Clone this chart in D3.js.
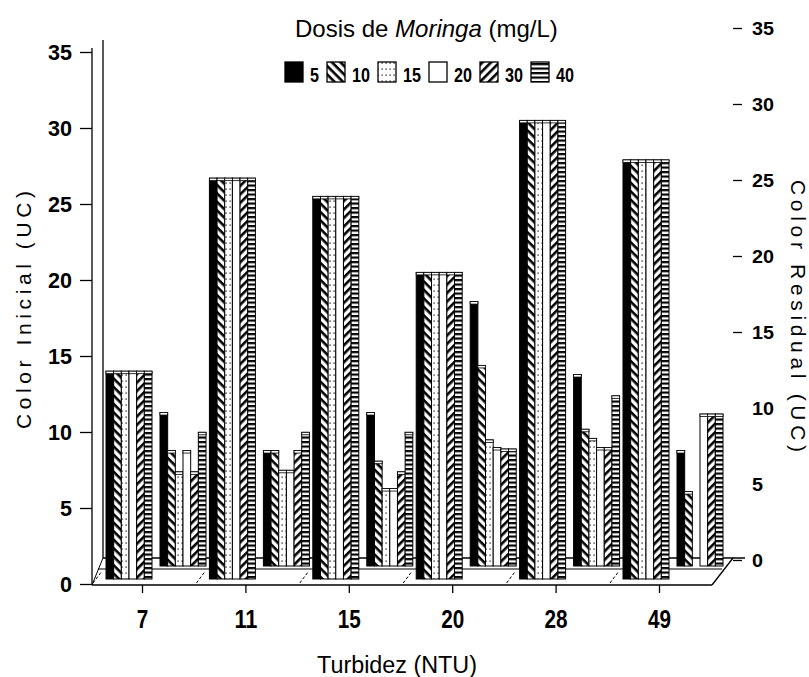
<!DOCTYPE html>
<html><head><meta charset="utf-8">
<script src="https://cdn.jsdelivr.net/npm/d3@7"></script>
<style>body{margin:0;background:#fff}</style>
</head><body>
<svg id="c" width="809" height="677"></svg>
<script>
// ---------- data ----------
const categories = ["7", "11", "15", "20", "28", "49"];      // Turbidez (NTU)
const doses = ["5", "10", "15", "20", "30", "40"];             // Dosis de Moringa (mg/L)
const colorInicial = [14.0, 26.7, 25.5, 20.5, 30.5, 27.9];    // same for every dose
const res5  = [9.7, 7.2, 9.7, 17.0, 12.2, 7.2];
const res10 = [7.2, 7.2, 6.5, 12.8, 8.6, 4.5];
const res15 = [5.8, 5.9, 4.7, 7.9, 8.0, 0];
const res20 = [7.2, 5.9, 4.7, 7.4, 7.4, 9.6];
const res30 = [5.8, 7.2, 5.8, 7.3, 7.4, 9.6];
const res40 = [8.4, 8.4, 8.4, 7.3, 10.8, 9.6];
const leftTicks = [0, 5, 10, 15, 20, 25, 30, 35];
const rightTicks = [0, 5, 10, 15, 20, 25, 30, 35];
const residual = [res5, res10, res15, res20, res30, res40];

// ---------- setup ----------
const svg = d3.select("#c");
const defs = svg.append("defs");
function stripes(id, angle, period, thick) {
  const p = defs.append("pattern").attr("id", id).attr("patternUnits", "userSpaceOnUse")
    .attr("width", period).attr("height", period).attr("patternTransform", `rotate(${angle})`);
  p.append("rect").attr("width", period).attr("height", period).attr("fill", "#fff");
  p.append("rect").attr("width", period).attr("height", thick).attr("fill", "#000");
}
stripes("p10", 45, 6, 2.6);
stripes("p30", -45, 6, 2.6);
stripes("p40", 0, 4.5, 2.2);
const pd = defs.append("pattern").attr("id", "p15").attr("patternUnits", "userSpaceOnUse")
  .attr("width", 4).attr("height", 6);
pd.append("rect").attr("width", 4).attr("height", 6).attr("fill", "#fff");
pd.append("rect").attr("x", 1.5).attr("y", 2.5).attr("width", 1.2).attr("height", 1.2).attr("fill", "#000");
const fills = { "5": "#000", "10": "url(#p10)", "15": "url(#p15)", "20": "#fff", "30": "url(#p30)", "40": "url(#p40)" };

const x = d3.scalePoint().domain(categories).range([142, 659]);
const yL = d3.scaleLinear().domain([0, 35]).range([584, 52]);
const yR = d3.scaleLinear().domain([0, 35]).range([560, 28]);
const sub = d3.scaleBand().domain(doses).range([0, 46]);
const frontBase = 579, backBase = 566;
const frontOff = -36, backOff = 18;

const font = "'Liberation Sans', Arial, sans-serif";

// ---------- floor / walls ----------
const g = svg.append("g").attr("stroke", "#000").attr("fill", "none");
g.append("line").attr("x1", 103).attr("y1", 40).attr("x2", 103).attr("y2", 558).attr("stroke-width", 1.3);
g.append("line").attr("x1", 103).attr("y1", 558).attr("x2", 745).attr("y2", 558).attr("stroke-width", 1.3);
g.append("line").attr("x1", 98).attr("y1", 569).attr("x2", 722).attr("y2", 569).attr("stroke-width", 1.2);
g.append("line").attr("x1", 92).attr("y1", 585).attr("x2", 712).attr("y2", 585).attr("stroke-width", 1.5);
g.append("line").attr("x1", 712).attr("y1", 585).attr("x2", 733).attr("y2", 558).attr("stroke-width", 1.3);
g.append("line").attr("x1", 92).attr("y1", 585).attr("x2", 103).attr("y2", 558).attr("stroke-width", 1);
categories.forEach(c => {
  const bx = x(c) - 49;
  g.append("line").attr("x1", bx).attr("y1", 583).attr("x2", bx + 9).attr("y2", 571)
    .attr("stroke-width", 1).attr("stroke-dasharray", "3,2");
});

// ---------- bars ----------
function drawBar(sel, x0, w, yTop, yBase, d) {
  sel.append("rect").attr("x", x0).attr("y", yTop).attr("width", w).attr("height", yBase - yTop)
    .attr("fill", fills[d]).attr("stroke", "#000").attr("stroke-width", 1);
  sel.append("rect").attr("x", x0).attr("y", yTop).attr("width", w).attr("height", 2.5)
    .attr("fill", "#fff").attr("stroke", "#000").attr("stroke-width", 0.8);
}
const bars = svg.append("g");
categories.forEach((c, i) => {
  doses.forEach((d, j) => {
    const v = residual[j][i];
    if (v > 0) drawBar(bars, x(c) + backOff + sub(d), sub.bandwidth(), yR(v), backBase, d);
  });
  doses.forEach(d => {
    drawBar(bars, x(c) + frontOff + sub(d), sub.bandwidth(), yL(colorInicial[i]), frontBase, d);
  });
});

// ---------- axes ----------
const axL = svg.append("g").attr("transform", "translate(92,0)")
  .call(d3.axisLeft(yL).tickValues(leftTicks).tickSize(12).tickSizeOuter(0).tickPadding(8));
axL.select(".domain").attr("stroke-width", 1.3).attr("d", "M0,48V585");
axL.selectAll("line").attr("stroke-width", 1.3);
axL.selectAll("text").attr("font-family", font).attr("font-weight", "bold").attr("font-size", 22)
  .attr("fill", "#000").attr("textLength", d => 12 * String(d).length).attr("lengthAdjust", "spacingAndGlyphs");

const axR = svg.append("g").attr("transform", "translate(733,0)")
  .call(d3.axisRight(yR).tickValues(rightTicks).tickSize(9).tickSizeOuter(0).tickPadding(10));
axR.select(".domain").remove();
axR.selectAll(".tick").filter(d => d === 5 || d === 10).select("line").remove();
axR.selectAll("line").attr("stroke-width", 1.3);
axR.selectAll("text").attr("font-family", font).attr("font-weight", "bold").attr("font-size", 19)
  .attr("fill", "#000").attr("textLength", d => 11 * String(d).length).attr("lengthAdjust", "spacingAndGlyphs");

const axB = svg.append("g").attr("transform", "translate(0,585)")
  .call(d3.axisBottom(x).tickSize(8).tickSizeOuter(0).tickPadding(17));
axB.select(".domain").remove();
axB.selectAll("line").attr("stroke-width", 1.3);
axB.selectAll("text").attr("font-family", font).attr("font-weight", "bold").attr("font-size", 25)
  .attr("fill", "#000").attr("textLength", d => 11.5 * String(d).length).attr("lengthAdjust", "spacingAndGlyphs");

// ---------- titles ----------
svg.append("text").attr("x", 397).attr("y", 673).attr("text-anchor", "middle")
  .attr("font-family", font).attr("font-size", 23)
  .attr("textLength", 160).attr("lengthAdjust", "spacingAndGlyphs").text("Turbidez (NTU)");
svg.append("text").attr("transform", "translate(31,310) rotate(-90)").attr("text-anchor", "middle")
  .attr("font-family", font).attr("font-size", 21)
  .attr("textLength", 238).attr("lengthAdjust", "spacing").text("Color Inicial (UC)");
svg.append("text").attr("transform", "translate(791,316) rotate(90)").attr("text-anchor", "middle")
  .attr("font-family", font).attr("font-size", 21)
  .attr("textLength", 272).attr("lengthAdjust", "spacing").text("Color Residual (UC)");

const title = svg.append("text").attr("x", 295).attr("y", 37)
  .attr("font-family", font).attr("font-size", 24);
title.append("tspan").text("Dosis de ");
title.append("tspan").attr("font-style", "italic").text("Moringa");
title.append("tspan").text(" (mg/L)");

// ---------- legend ----------
let lx = 285;
doses.forEach(d => {
  svg.append("rect").attr("x", lx).attr("y", 62).attr("width", 18).attr("height", 20)
    .attr("fill", fills[d]).attr("stroke", "#000").attr("stroke-width", 1.3);
  lx += 25;
  const w = 9 * d.length;
  svg.append("text").attr("x", lx).attr("y", 82)
    .attr("font-family", font).attr("font-weight", "bold").attr("font-size", 20)
    .attr("textLength", w).attr("lengthAdjust", "spacingAndGlyphs").text(d);
  lx += w + 8;
});
</script>
</body></html>
